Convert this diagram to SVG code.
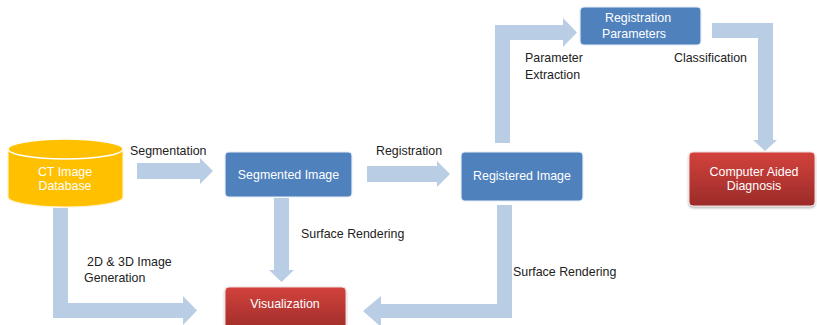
<svg xmlns="http://www.w3.org/2000/svg" width="817" height="325" viewBox="0 0 817 325">
<defs>
<linearGradient id="red" x1="0" y1="0" x2="0" y2="1">
<stop offset="0" stop-color="#D3423D"/>
<stop offset="1" stop-color="#9B2B28"/>
</linearGradient>
<filter id="sh" x="-10%" y="-10%" width="120%" height="130%">
<feDropShadow dx="0" dy="1.5" stdDeviation="1.2" flood-color="#000" flood-opacity="0.3"/>
</filter>
<style>
.arrow{fill:#B9CDE5}
.blue{fill:#4F81BD;stroke:#E8EEF7;stroke-width:1.2}
.red{fill:url(#red);stroke:#F0DCDC;stroke-width:1}
.nt{font-family:"Liberation Sans",Arial,sans-serif;font-size:12.4px;fill:#FFFFFF;text-anchor:middle}
.lb{font-family:"Liberation Sans",Arial,sans-serif;font-size:12.4px;fill:#222222}
</style>
</defs>
<rect width="817" height="325" fill="#FFFFFF"/>
<g id="connectors">
<polygon class="arrow" points="137,163 200,163 200,158 213,171 200,184 200,179 137,179"/>
<polygon class="arrow" points="367,166 437,166 437,161 450,174 437,187 437,182 367,182"/>
<polygon class="arrow" points="274,198 289,198 289,270 294,270 281.5,282 269,270 274,270"/>
<polygon class="arrow" points="497,205 512,205 512,318 381,318 381,327 363,311 381,296 381,304 497,304"/>
<polygon class="arrow" points="53,208 68,208 68,303 183,303 183,296 197,310.5 183,325 183,318 53,318"/>
<polygon class="arrow" points="495,143 495,25 563,25 563,18 577,32.5 563,47 563,40 510,40 510,143"/>
<polygon class="arrow" points="712,23 773,23 773,140 777,140 765,151 753,140 758,140 758,38 712,38"/>
<text class="lb" x="130" y="155">Segmentation</text>
<text class="lb" x="376" y="155">Registration</text>
<text class="lb" x="301" y="238">Surface Rendering</text>
<text class="lb" x="513" y="276">Surface Rendering</text>
<text class="lb" x="87" y="266">2D &amp; 3D Image</text>
<text class="lb" x="84" y="282">Generation</text>
<text class="lb" x="525" y="62">Parameter</text>
<text class="lb" x="525" y="79">Extraction</text>
<text class="lb" x="674" y="62">Classification</text>
</g>
<g id="ct-database">
<path d="M8,149 A57.5,10 0 0 1 123,149 V197 A57.5,10 0 0 1 8,197 Z" fill="#FFC000" stroke="#FFF2CC" stroke-width="1.2"/>
<ellipse cx="65.5" cy="149" rx="57.5" ry="10" fill="#FFC000" stroke="#FFFFFF" stroke-width="1.5"/>
<text class="nt" x="65" y="176">CT Image</text>
<text class="nt" x="65" y="190">Database</text>
</g>
<g id="segmented-image">
<rect class="blue" x="225" y="152" width="127" height="45" rx="4"/>
<text class="nt" x="288.5" y="179">Segmented Image</text>
</g>
<g id="registered-image">
<rect class="blue" x="461" y="152" width="122" height="49" rx="4"/>
<text class="nt" x="522" y="180">Registered Image</text>
</g>
<g id="registration-parameters">
<rect class="blue" x="580" y="7" width="121" height="38" rx="4"/>
<text class="nt" x="638" y="22">Registration</text>
<text class="nt" x="634" y="38">Parameters</text>
</g>
<g id="visualization">
<rect class="red" x="225" y="287" width="121" height="46" rx="4" filter="url(#sh)"/>
<text class="nt" x="285" y="308">Visualization</text>
</g>
<g id="computer-aided-diagnosis">
<rect class="red" x="689" y="152" width="126" height="54" rx="4" filter="url(#sh)"/>
<text class="nt" x="754" y="176">Computer Aided</text>
<text class="nt" x="754" y="190">Diagnosis</text>
</g>
</svg>
